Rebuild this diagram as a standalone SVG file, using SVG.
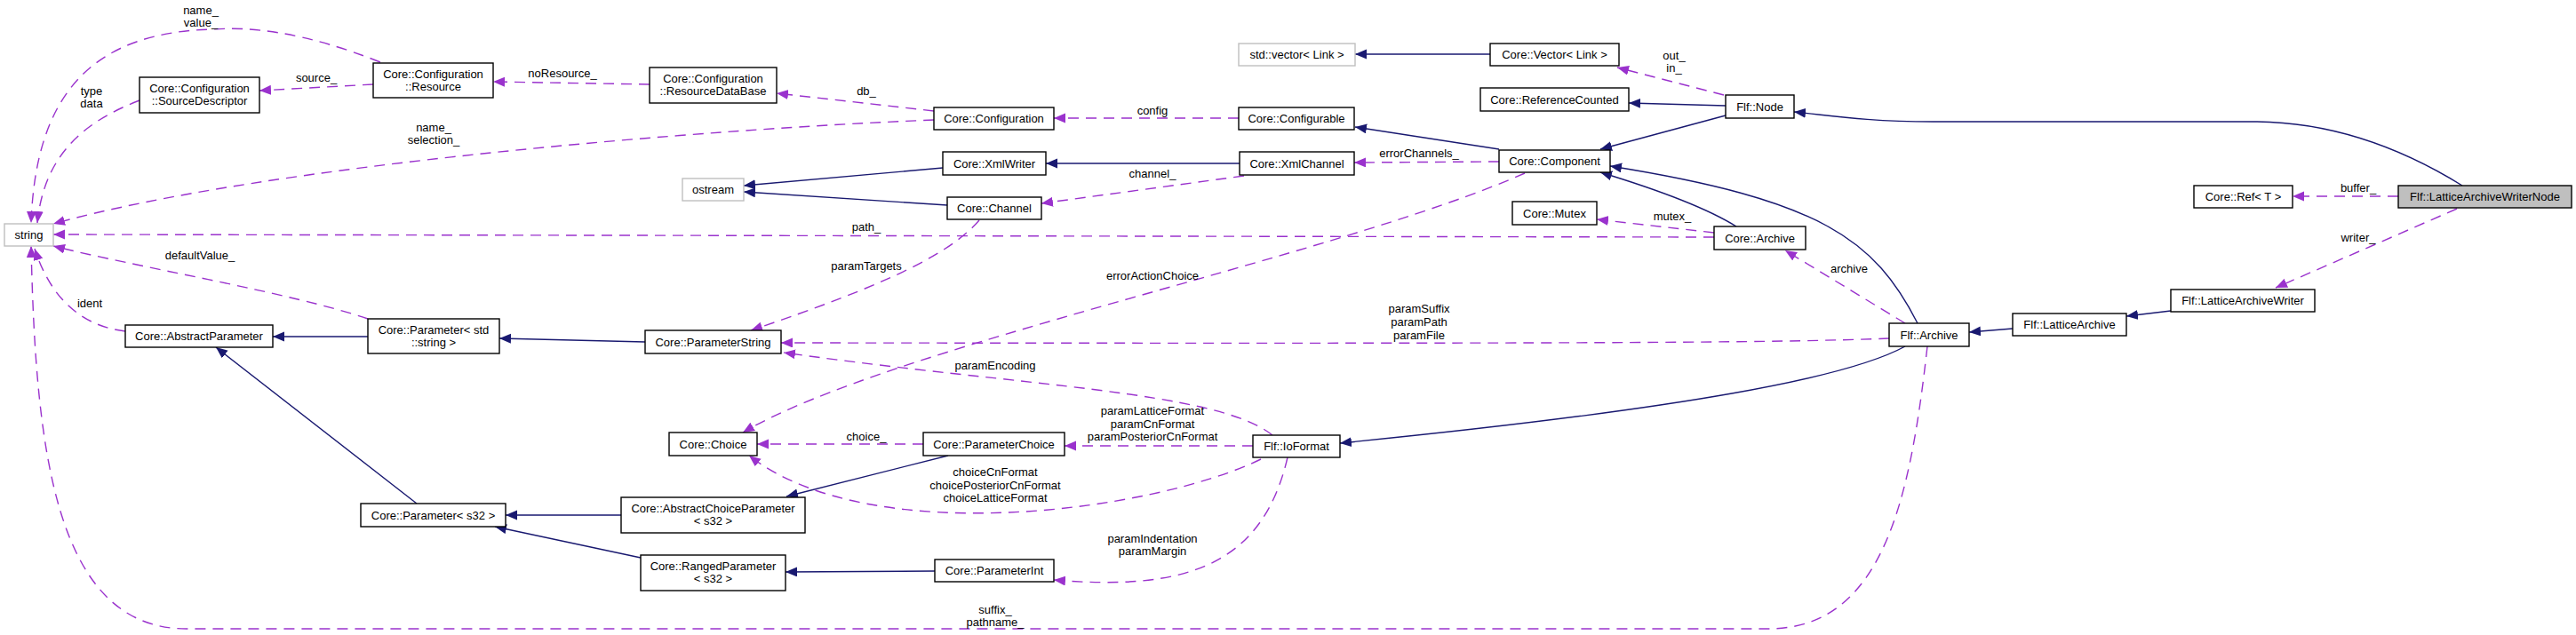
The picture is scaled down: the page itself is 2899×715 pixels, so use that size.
<svg xmlns="http://www.w3.org/2000/svg" width="2899" height="715" viewBox="0 0 2899 715">
<style>
text{font-family:"Liberation Sans",Arial,sans-serif;font-size:13px;text-anchor:middle;fill:#000}
.n rect{fill:#fff;stroke:#000;stroke-width:1.4}
.g rect{fill:#fff;stroke:#bfbfbf;stroke-width:1.4}
.f rect{fill:#bfbfbf;stroke:#000;stroke-width:1.4}
.inh{fill:none;stroke:#191970;stroke-width:1.4;marker-end:url(#ah)}
.use{fill:none;stroke:#9a32cd;stroke-width:1.4;stroke-dasharray:12,8;marker-end:url(#au)}
</style>
<defs>
<marker id="ah" markerUnits="userSpaceOnUse" markerWidth="14" markerHeight="12" refX="13" refY="5.5" orient="auto"><path d="M0,0 L13,5.5 L0,11 z" fill="#191970"/></marker>
<marker id="au" markerUnits="userSpaceOnUse" markerWidth="14" markerHeight="12" refX="13" refY="5.5" orient="auto"><path d="M0,0 L13,5.5 L0,11 z" fill="#9a32cd"/></marker>
</defs>
<rect width="2899" height="715" fill="#fff"/>
<g id="edges">
<path class="inh" d="M1677,61 L1525,61"/>
<path class="inh" d="M1942,119 L1833,116"/>
<path class="inh" d="M1942,130 L1801,168"/>
<path class="inh" d="M1687,168 L1525,143"/>
<path class="inh" d="M1395,184 L1177,184"/>
<path class="inh" d="M1061,189 L837,209"/>
<path class="inh" d="M1066,231 L837,216"/>
<path class="inh" d="M1954,255 C1930,240 1880,218 1801,194"/>
<path class="inh" d="M2158,364 C2110,270 2050,225 1812,187"/>
<path class="inh" d="M2265,370 L2216,374"/>
<path class="inh" d="M2443,350 L2393,356"/>
<path class="inh" d="M2771,209 C2700,165 2620,137 2536,137 L2175,137 C2100,137 2060,130 2019,126"/>
<path class="inh" d="M2144,390 C2080,425 1900,460 1508,499"/>
<path class="inh" d="M1067,513 L885,559"/>
<path class="inh" d="M699,580 L569,580"/>
<path class="inh" d="M721,628 L557,593"/>
<path class="inh" d="M1052,643 L884,644"/>
<path class="inh" d="M469,567 L243,391"/>
<path class="inh" d="M414,379 L307,379"/>
<path class="inh" d="M726,385 L562,381"/>
<path class="use" d="M428,70 C340,35 280,30 240,33 C100,36 40,110 35,251"/>
<path class="use" d="M157,113 C100,135 50,170 42,251"/>
<path class="use" d="M420,95 L292,102"/>
<path class="use" d="M731,95 L555,92"/>
<path class="use" d="M1051,125 L874,105"/>
<path class="use" d="M1051,135 C800,145 300,185 60,252"/>
<path class="use" d="M1394,133 L1186,133"/>
<path class="use" d="M1400,198 L1172,229"/>
<path class="use" d="M1687,182 L1524,183"/>
<path class="use" d="M1929,267 L60,264"/>
<path class="use" d="M1929,262 L1797,247"/>
<path class="use" d="M1102,248 C1070,285 1000,320 845,372"/>
<path class="use" d="M1716,195 C1500,290 1000,390 836,487"/>
<path class="use" d="M414,359 C330,330 150,300 60,277"/>
<path class="use" d="M141,373 C100,368 60,345 39,280"/>
<path class="use" d="M2126,381 C2000,386 1800,387 879,386"/>
<path class="use" d="M1432,490 C1370,440 1150,435 882,397"/>
<path class="use" d="M1410,502 L1198,502"/>
<path class="use" d="M1039,500 L852,500"/>
<path class="use" d="M1419,517 C1300,575 980,620 843,513"/>
<path class="use" d="M1449,515 C1420,640 1330,665 1186,653"/>
<path class="use" d="M2169,390 C2150,560 2120,708 1990,708 L210,708 C60,708 40,500 35,277"/>
<path class="use" d="M2144,364 L2009,282"/>
<path class="use" d="M1940,107 L1820,76"/>
<path class="use" d="M2699,221 L2580,221"/>
<path class="use" d="M2765,235 L2561,324"/>
<text x="226" y="16">name_</text><text x="226" y="30">value_</text>
<text x="103" y="107">type</text><text x="103" y="121">data</text>
<text x="356" y="92">source_</text>
<text x="633" y="87">noResource_</text>
<text x="488" y="148">name_</text><text x="488" y="162">selection_</text>
<text x="225" y="292">defaultValue_</text>
<text x="101" y="346">ident</text>
<text x="975" y="107">db_</text>
<text x="1297" y="129">config</text>
<text x="1297" y="200">channel_</text>
<text x="975" y="260">path_</text>
<text x="975" y="304">paramTargets</text>
<text x="1297" y="315">errorActionChoice</text>
<text x="1884" y="67">out_</text><text x="1884" y="81">in_</text>
<text x="1597" y="177">errorChannels_</text>
<text x="1882" y="248">mutex_</text>
<text x="2081" y="307">archive</text>
<text x="1597" y="352">paramSuffix</text><text x="1597" y="367">paramPath</text><text x="1597" y="382">paramFile</text>
<text x="2654" y="216">buffer_</text>
<text x="2654" y="272">writer_</text>
<text x="1120" y="416">paramEncoding</text>
<text x="1297" y="467">paramLatticeFormat</text><text x="1297" y="482">paramCnFormat</text><text x="1297" y="496">paramPosteriorCnFormat</text>
<text x="975" y="496">choice_</text>
<text x="1120" y="536">choiceCnFormat</text><text x="1120" y="551">choicePosteriorCnFormat</text><text x="1120" y="565">choiceLatticeFormat</text>
<text x="1297" y="611">paramIndentation</text><text x="1297" y="625">paramMargin</text>
<text x="1120" y="691">suffix_</text><text x="1120" y="705">pathname_</text>
</g>
<g id="string" class="g"><rect x="5" y="252" width="55" height="25"/><text x="32.5" y="269">string</text></g>
<g id="sourcedescriptor" class="n"><rect x="157" y="87" width="135" height="40"/><text x="224.5" y="104">Core::Configuration</text><text x="224.5" y="118">::SourceDescriptor</text></g>
<g id="resource" class="n"><rect x="420" y="71" width="135" height="39"/><text x="487.5" y="88">Core::Configuration</text><text x="487.5" y="102">::Resource</text></g>
<g id="resourcedatabase" class="n"><rect x="731" y="76" width="143" height="40"/><text x="802.5" y="93">Core::Configuration</text><text x="802.5" y="107">::ResourceDataBase</text></g>
<g id="configuration" class="n"><rect x="1051" y="121" width="135" height="25"/><text x="1118.5" y="138">Core::Configuration</text></g>
<g id="xmlwriter" class="n"><rect x="1061" y="171" width="116" height="26"/><text x="1119" y="188.5">Core::XmlWriter</text></g>
<g id="ostream" class="g"><rect x="768" y="201" width="69" height="25"/><text x="802.5" y="218">ostream</text></g>
<g id="channel" class="n"><rect x="1066" y="222" width="106" height="25"/><text x="1119" y="239">Core::Channel</text></g>
<g id="stdvector" class="g"><rect x="1394" y="49" width="131" height="25"/><text x="1459.5" y="66">std::vector&lt; Link &gt;</text></g>
<g id="configurable" class="n"><rect x="1394" y="121" width="130" height="25"/><text x="1459" y="138">Core::Configurable</text></g>
<g id="xmlchannel" class="n"><rect x="1395" y="171" width="129" height="26"/><text x="1459.5" y="188.5">Core::XmlChannel</text></g>
<g id="corevector" class="n"><rect x="1677" y="49" width="145" height="25"/><text x="1749.5" y="66">Core::Vector&lt; Link &gt;</text></g>
<g id="refcounted" class="n"><rect x="1666" y="99" width="167" height="26"/><text x="1749.5" y="116.5">Core::ReferenceCounted</text></g>
<g id="flfnode" class="n"><rect x="1942" y="107" width="77" height="26"/><text x="1980.5" y="124.5">Flf::Node</text></g>
<g id="component" class="n"><rect x="1687" y="169" width="125" height="25"/><text x="1749.5" y="186">Core::Component</text></g>
<g id="mutex" class="n"><rect x="1702" y="227" width="95" height="26"/><text x="1749.5" y="244.5">Core::Mutex</text></g>
<g id="corearchive" class="n"><rect x="1929" y="255" width="103" height="26"/><text x="1980.5" y="272.5">Core::Archive</text></g>
<g id="coreref" class="n"><rect x="2469" y="209" width="111" height="25"/><text x="2524.5" y="226">Core::Ref&lt; T &gt;</text></g>
<g id="writernode" class="f"><rect x="2699" y="209" width="195" height="25"/><text x="2796.5" y="226">Flf::LatticeArchiveWriterNode</text></g>
<g id="latticearchivewriter" class="n"><rect x="2443" y="326" width="162" height="25"/><text x="2524" y="343">Flf::LatticeArchiveWriter</text></g>
<g id="latticearchive" class="n"><rect x="2265" y="353" width="128" height="25"/><text x="2329" y="370">Flf::LatticeArchive</text></g>
<g id="flfarchive" class="n"><rect x="2126" y="364" width="90" height="26"/><text x="2171" y="381.5">Flf::Archive</text></g>
<g id="abstractparameter" class="n"><rect x="141" y="366" width="166" height="25"/><text x="224" y="383">Core::AbstractParameter</text></g>
<g id="paramstdstring" class="n"><rect x="414" y="359" width="148" height="39"/><text x="488" y="376">Core::Parameter&lt; std</text><text x="488" y="390">::string &gt;</text></g>
<g id="params32" class="n"><rect x="406" y="567" width="163" height="26"/><text x="487.5" y="584.5">Core::Parameter&lt; s32 &gt;</text></g>
<g id="abstractchoiceparameter" class="n"><rect x="699" y="560" width="207" height="40"/><text x="802.5" y="577">Core::AbstractChoiceParameter</text><text x="802.5" y="591">&lt; s32 &gt;</text></g>
<g id="rangedparameter" class="n"><rect x="721" y="625" width="163" height="40"/><text x="802.5" y="642">Core::RangedParameter</text><text x="802.5" y="656">&lt; s32 &gt;</text></g>
<g id="parameterstring" class="n"><rect x="726" y="372" width="153" height="26"/><text x="802.5" y="389.5">Core::ParameterString</text></g>
<g id="choice" class="n"><rect x="753" y="487" width="99" height="26"/><text x="802.5" y="504.5">Core::Choice</text></g>
<g id="parameterchoice" class="n"><rect x="1039" y="487" width="159" height="26"/><text x="1118.5" y="504.5">Core::ParameterChoice</text></g>
<g id="parameterint" class="n"><rect x="1052" y="630" width="134" height="25"/><text x="1119" y="647">Core::ParameterInt</text></g>
<g id="ioformat" class="n"><rect x="1410" y="490" width="98" height="25"/><text x="1459" y="507">Flf::IoFormat</text></g>
</svg>
